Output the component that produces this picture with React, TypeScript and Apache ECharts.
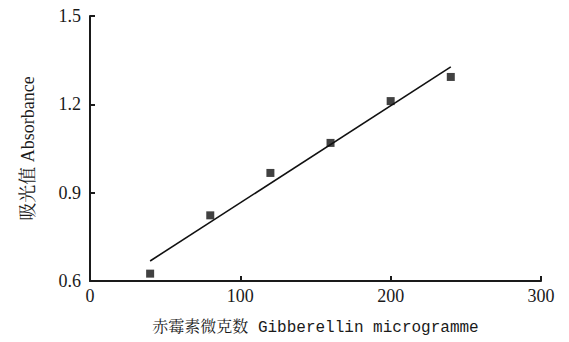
import React, { useEffect, useRef } from "react";
import * as echarts from "echarts";

const microgramX = [40, 80, 120, 160, 200, 240];
const absorbanceY = [0.625, 0.823, 0.967, 1.069, 1.211, 1.293];
const fitLineX = [40, 240];
const fitLineY = [0.668, 1.327];
const xTicks = [0, 100, 200, 300];
const yTicks = [0.6, 0.9, 1.2, 1.5];

export default function App() {
  const ref = useRef<HTMLDivElement>(null);
  useEffect(() => {
    if (!ref.current) return;
    const chart = echarts.init(ref.current, null, { renderer: "svg" });
    const axisColor = "#1a1a1a";
    chart.setOption({
      animation: false,
      backgroundColor: "#ffffff",
      textStyle: { fontFamily: "Liberation Serif" },
      grid: { left: 90, right: 28, top: 16, bottom: 61 },
      xAxis: {
        type: "value",
        min: xTicks[0],
        max: xTicks[xTicks.length - 1],
        interval: 100,
        name: "赤霉素微克数 Gibberellin microgramme",
        nameLocation: "middle",
        nameGap: 39,
        nameTextStyle: {
          fontFamily: "Liberation Mono, Noto Serif CJK SC",
          fontSize: 16,
          color: "#1a1a1a",
        },
        axisLine: { show: true, onZero: false, lineStyle: { color: axisColor, width: 2 } },
        axisTick: { show: true, inside: true, length: 5, lineStyle: { color: axisColor, width: 2 } },
        axisLabel: {
          margin: 6,
          fontFamily: "Liberation Serif",
          fontSize: 18,
          color: "#1a1a1a",
        },
        splitLine: { show: false },
      },
      yAxis: {
        type: "value",
        min: yTicks[0],
        max: yTicks[yTicks.length - 1],
        interval: 0.3,
        name: "吸光值 Absorbance",
        nameLocation: "middle",
        nameGap: 53,
        nameRotate: 90,
        nameTextStyle: {
          fontFamily: "Liberation Serif, Noto Serif CJK SC",
          fontSize: 18,
          color: "#1a1a1a",
        },
        axisLine: { show: true, onZero: false, lineStyle: { color: axisColor, width: 2 } },
        axisTick: { show: true, inside: true, length: 5, lineStyle: { color: axisColor, width: 2 } },
        axisLabel: {
          margin: 9,
          fontFamily: "Liberation Serif",
          fontSize: 18,
          color: "#1a1a1a",
          formatter: (v: number) => v.toFixed(1),
        },
        splitLine: { show: false },
      },
      series: [
        {
          type: "line",
          data: fitLineX.map((x, i) => [x, fitLineY[i]]),
          showSymbol: false,
          symbol: "none",
          lineStyle: { color: "#111111", width: 1.6 },
          z: 2,
        },
        {
          type: "scatter",
          data: microgramX.map((x, i) => [x, absorbanceY[i]]),
          symbol: "rect",
          symbolSize: 8,
          itemStyle: { color: "#111111" },
          z: 3,
        },
      ],
    });
    return () => chart.dispose();
  }, []);
  return (
    <div
      ref={ref}
      style={{ position: "fixed", left: 0, top: 0, width: 569, height: 342, background: "#fff" }}
    />
  );
}
